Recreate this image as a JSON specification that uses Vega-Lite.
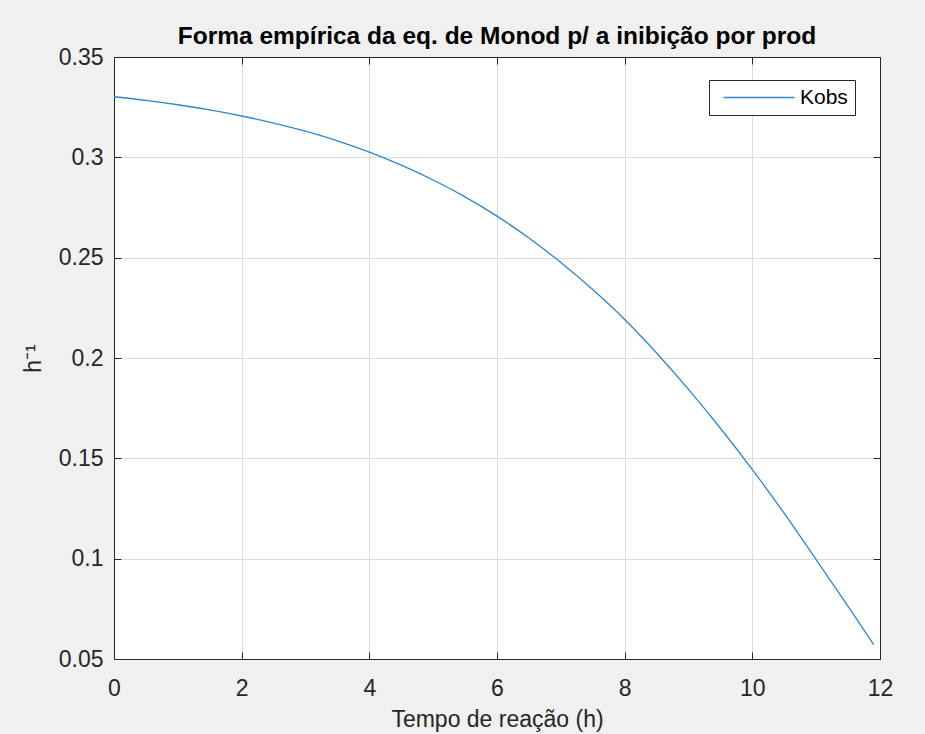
{
  "$schema": "https://vega.github.io/schema/vega-lite/v6.json",
  "autosize": {"type": "none"},
  "width": 766,
  "height": 602,
  "padding": {"left": 114, "top": 57, "right": 45, "bottom": 75},
  "background": "#f0f0f0",
  "config": {
    "font": "Liberation Sans",
    "view": {"stroke": "#262626", "strokeWidth": 1, "fill": "white"},
    "axis": {
      "labelFont": "Liberation Sans",
      "titleFont": "Liberation Sans",
      "labelFontSize": 23,
      "labelColor": "#262626",
      "titleFontSize": 23,
      "titleFontWeight": "normal",
      "titleColor": "#262626",
      "domainColor": "#262626",
      "domainWidth": 1,
      "tickColor": "#262626",
      "tickSize": -7,
      "gridColor": "#dcdcdc",
      "gridWidth": 1,
      "labelFlush": false
    }
  },
  "title": {
    "text": "Forma empírica da eq. de Monod p/ a inibição por prod",
    "font": "Liberation Sans",
    "fontSize": 24.5,
    "fontWeight": "bold",
    "color": "#000000",
    "anchor": "middle",
    "offset": -3
  },
  "data": {
    "values": [
      {"t": 0, "k": 0.3302, "s": "Kobs"},
      {"t": 0.5, "k": 0.3284, "s": "Kobs"},
      {"t": 1, "k": 0.3262, "s": "Kobs"},
      {"t": 1.5, "k": 0.3236, "s": "Kobs"},
      {"t": 2, "k": 0.3206, "s": "Kobs"},
      {"t": 2.5, "k": 0.3171, "s": "Kobs"},
      {"t": 3, "k": 0.3130, "s": "Kobs"},
      {"t": 3.5, "k": 0.3082, "s": "Kobs"},
      {"t": 4, "k": 0.3026, "s": "Kobs"},
      {"t": 4.5, "k": 0.2961, "s": "Kobs"},
      {"t": 5, "k": 0.2887, "s": "Kobs"},
      {"t": 5.5, "k": 0.2803, "s": "Kobs"},
      {"t": 6, "k": 0.2707, "s": "Kobs"},
      {"t": 6.5, "k": 0.2598, "s": "Kobs"},
      {"t": 7, "k": 0.2476, "s": "Kobs"},
      {"t": 7.5, "k": 0.2341, "s": "Kobs"},
      {"t": 8, "k": 0.2192, "s": "Kobs"},
      {"t": 8.5, "k": 0.2025, "s": "Kobs"},
      {"t": 9, "k": 0.1844, "s": "Kobs"},
      {"t": 9.5, "k": 0.1650, "s": "Kobs"},
      {"t": 10, "k": 0.1444, "s": "Kobs"},
      {"t": 10.5, "k": 0.1226, "s": "Kobs"},
      {"t": 11, "k": 0.0995, "s": "Kobs"},
      {"t": 11.5, "k": 0.0762, "s": "Kobs"},
      {"t": 11.9, "k": 0.0572, "s": "Kobs"}
    ]
  },
  "layer": [
    {
      "mark": {"type": "line", "interpolate": "monotone", "strokeWidth": 1.3, "clip": true},
      "encoding": {
        "x": {
          "field": "t", "type": "quantitative",
          "scale": {"domain": [0, 12], "nice": false, "zero": false},
          "axis": {"values": [0, 2, 4, 6, 8, 10, 12], "title": "Tempo de reação (h)", "labelPadding": 25, "titlePadding": 8, "format": "d", "labelFlush": false}
        },
        "y": {
          "field": "k", "type": "quantitative",
          "scale": {"domain": [0.05, 0.35], "nice": false, "zero": false},
          "axis": {"values": [0.05, 0.1, 0.15, 0.2, 0.25, 0.3, 0.35], "format": ".2~f", "title": "h⁻¹", "labelPadding": 18, "titlePadding": 13, "labelFlush": false}
        },
        "color": {
          "field": "s", "type": "nominal",
          "scale": {"range": ["#2f86cc"]},
          "legend": {
            "title": null,
            "orient": "none",
            "legendX": 595,
            "legendY": 23,
            "symbolType": "M-0.34,0H7.66",
            "symbolSize": 315,
            "symbolStrokeWidth": 1.3,
            "labelFontSize": 21,
            "labelColor": "#000000",
            "labelFont": "Liberation Sans",
            "strokeColor": "#262626",
            "fillColor": "white",
            "padding": 7,
            "labelOffset": 63
          }
        }
      }
    },
    {
      "mark": {"type": "line", "opacity": 0},
      "encoding": {
        "x": {"field": "t", "type": "quantitative", "axis": {"orient": "top", "values": [0, 2, 4, 6, 8, 10, 12], "labels": false, "title": null, "grid": false}},
        "y": {"field": "k", "type": "quantitative", "axis": {"orient": "right", "values": [0.05, 0.1, 0.15, 0.2, 0.25, 0.3, 0.35], "labels": false, "title": null, "grid": false}}
      }
    }
  ],
  "resolve": {"axis": {"x": "independent", "y": "independent"}}
}
